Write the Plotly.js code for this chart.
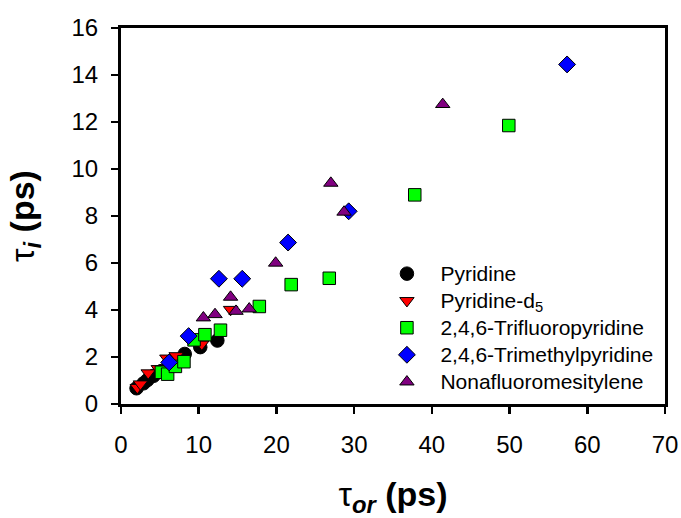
<!DOCTYPE html>
<html>
<head>
<meta charset="utf-8">
<script src="https://cdn.plot.ly/plotly-3.0.1.min.js"></script>
<style>html,body{margin:0;padding:0;background:#fff;}#chart{width:681px;height:518px;}</style>
</head>
<body>
<div id="chart"></div>
<script>
// Pyridine
const pyrX = [2.0, 2.9, 3.4, 4.2, 5.2, 6.6, 8.2, 10.2, 12.4];
const pyrY = [0.67, 0.88, 1.02, 1.2, 1.4, 1.8, 2.13, 2.42, 2.7];
// Pyridine-d5
const d5X = [2.1, 2.5, 3.5, 4.8, 5.9, 7.1, 10.4, 14.1];
const d5Y = [0.7, 0.85, 1.32, 1.5, 1.95, 2.05, 2.55, 4.02];
// 2,4,6-Trifluoropyridine
const tfpX = [5.2, 6.0, 7.0, 8.1, 9.4, 10.8, 12.8, 17.8, 21.9, 26.8, 37.8, 49.9];
const tfpY = [1.35, 1.27, 1.6, 1.8, 2.73, 2.95, 3.14, 4.15, 5.08, 5.35, 8.9, 11.85];
// 2,4,6-Trimethylpyridine
const tmpX = [6.2, 8.7, 12.6, 15.6, 21.5, 29.3, 57.4];
const tmpY = [1.77, 2.89, 5.33, 5.33, 6.87, 8.2, 14.45];
// Nonafluoromesitylene
const nfmX = [10.6, 12.1, 14.1, 14.8, 16.5, 19.9, 27.0, 28.7, 41.4];
const nfmY = [3.67, 3.81, 4.55, 3.95, 4.05, 6.0, 9.4, 8.17, 12.75];

const names = ['Pyridine', 'Pyridine-d<sub>5</sub>', '2,4,6-Trifluoropyridine', '2,4,6-Trimethylpyridine', 'Nonafluoromesitylene'];
const xTicks = [0, 10, 20, 30, 40, 50, 60, 70];
const yTicks = [0, 2, 4, 6, 8, 10, 12, 14, 16];

const FONT = '"Liberation Sans", Arial, sans-serif';
const lbl = s => '<span style="font-size:21px">' + s + '</span>';

function tr(x, y, name, symbol, color, size) {
  return {
    type: 'scatter', mode: 'markers', x: x, y: y, name: lbl(name),
    marker: {symbol: symbol, color: color, size: size, line: {color: '#000', width: 1}},
    hoverinfo: 'x+y'
  };
}

const data = [
  tr(pyrX, pyrY, names[0], 'circle', '#000000', 13.5),
  tr(d5X, d5Y, names[1], 'triangle-down', '#ff0000', 12.5),
  tr(tfpX, tfpY, names[2], 'square', '#00ff00', 12.5),
  tr(tmpX, tmpY, names[3], 'diamond', '#0000ff', 13),
  tr(nfmX, nfmY, names[4], 'triangle-up', '#800080', 12.5)
];

const axisCommon = {
  showgrid: false, zeroline: false,
  showline: true, linecolor: '#000', linewidth: 3, mirror: true,
  ticks: 'outside', ticklen: 7, tickwidth: 2.5, tickcolor: '#000',
  tickfont: {family: FONT, size: 24, color: '#000'}
};

const layout = {
  width: 681, height: 518,
  margin: {l: 121, r: 15.5, t: 27.5, b: 114},
  paper_bgcolor: '#fff', plot_bgcolor: '#fff',
  font: {family: FONT, color: '#000'},
  showlegend: true,
  legend: {
    x: 0.464, y: 0.396, xanchor: 'left', yanchor: 'top',
    bgcolor: 'rgba(0,0,0,0)', borderwidth: 0,
    font: {family: FONT, size: 18.5, color: '#000'},
    itemwidth: 57
  },
  xaxis: Object.assign({}, axisCommon, {
    range: [0, 70], tickvals: xTicks, ticktext: xTicks.map(String),
    ticklabelstandoff: 10,
    title: {text: '<span style="font-weight:normal">τ</span><sub><i>or</i></sub> (ps)',
            font: {family: FONT, size: 34, weight: 'bold', color: '#000'}, standoff: 27}
  }),
  yaxis: Object.assign({}, axisCommon, {
    range: [0, 16], tickvals: yTicks, ticktext: yTicks.map(String),
    ticklabelstandoff: 8,
    title: {text: '<span style="font-weight:normal">τ</span><sub><i>i</i></sub> (ps)',
            font: {family: FONT, size: 34, weight: 'bold', color: '#000'}, standoff: 27}
  })
};

Plotly.newPlot('chart', data, layout, {displayModeBar: false, staticPlot: true});
</script>
</body>
</html>
